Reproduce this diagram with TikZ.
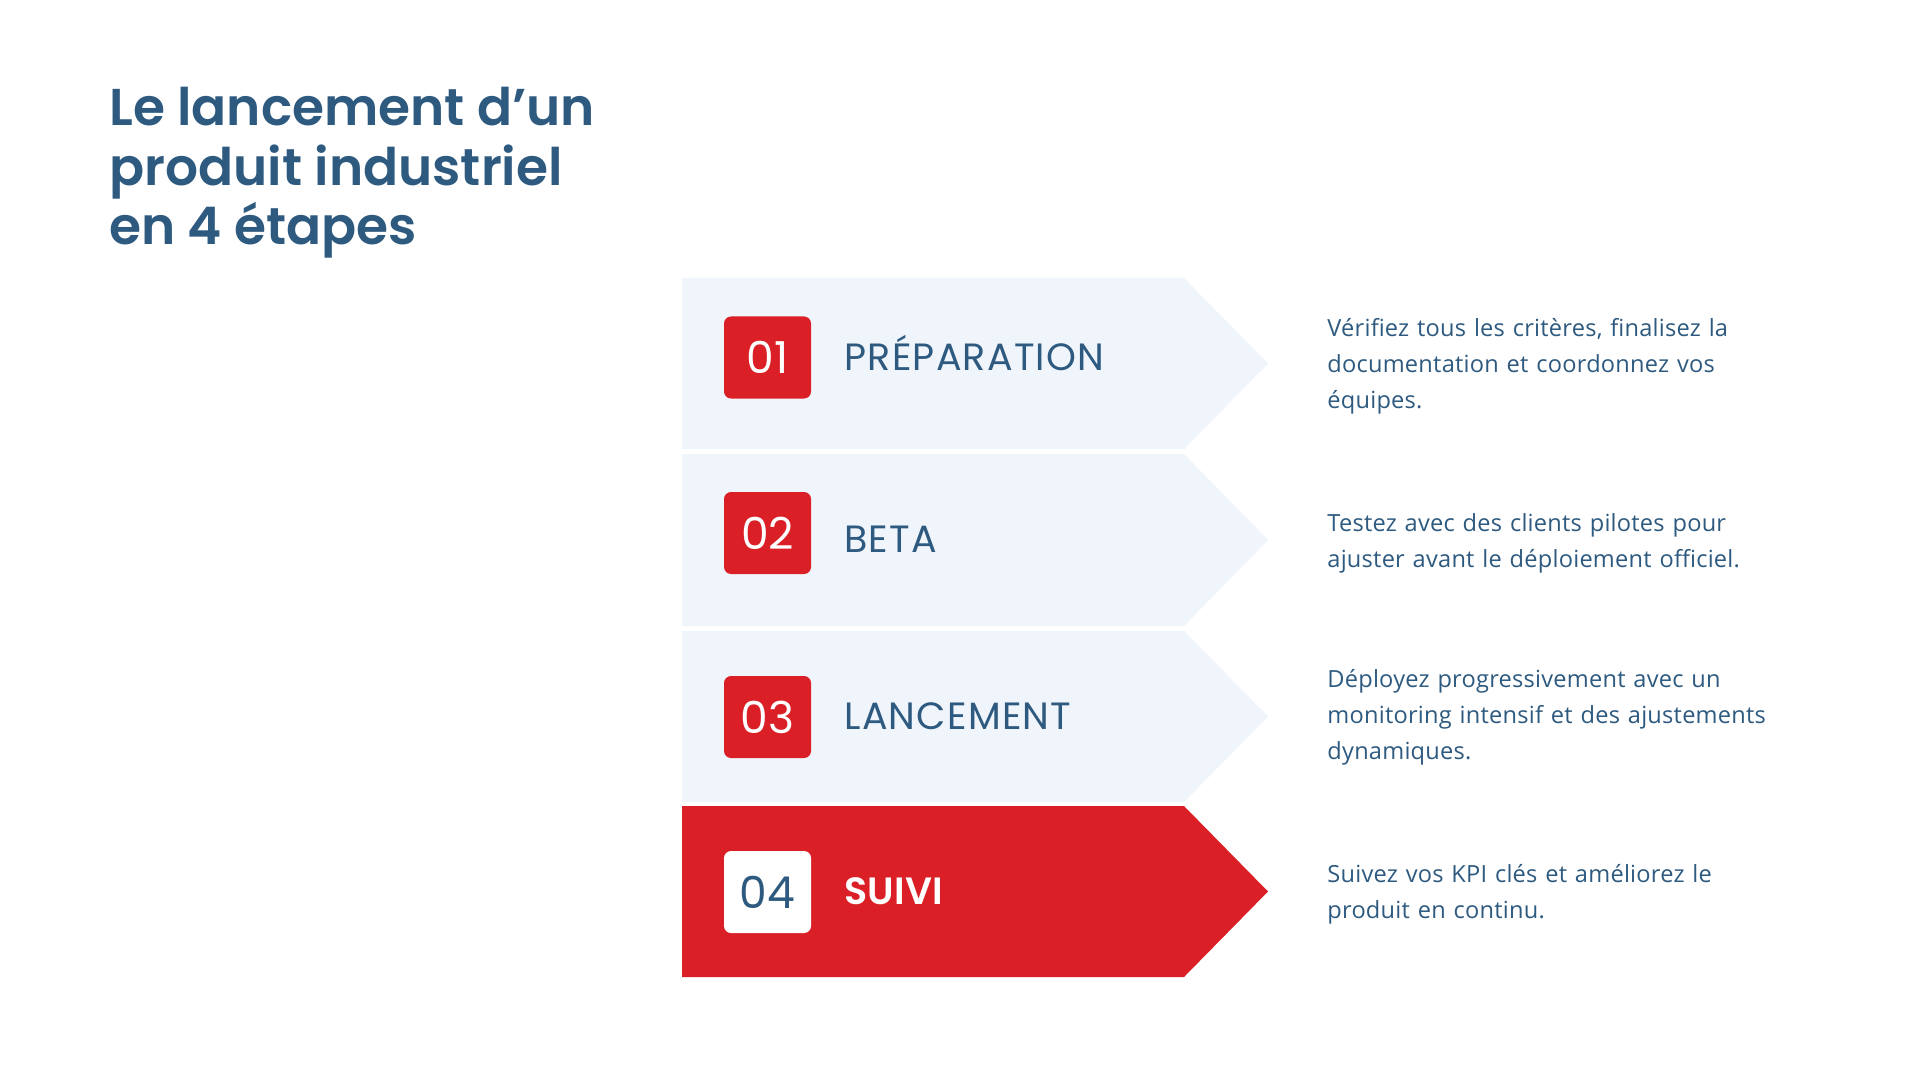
\documentclass[tikz,border=0pt]{standalone}
\usepackage{fontspec}
\setmainfont{Poppins}
\newfontfamily\titlefont{Poppins SemiBold}
\newfontfamily\labelfont{Poppins}[LetterSpace=3.3]
\newfontfamily\labelboldfont{Poppins SemiBold}[LetterSpace=0.8]
\newfontfamily\descfont{Open Sans}[LetterSpace=1]
\definecolor{ink}{HTML}{2E5A80}
\definecolor{brandred}{HTML}{DA1F26}
\definecolor{pale}{HTML}{F0F5FC}
\tikzset{
  titletext/.style={anchor=base west, inner sep=0pt, text=ink, font=\titlefont\fontsize{25.9}{30}\selectfont},
  numbox/.style={fill=brandred, rounded corners=3.5pt, minimum width=43.5pt, minimum height=41pt, inner sep=0pt, text=white, font=\fontsize{22}{22}\selectfont},
  numboxw/.style={numbox, fill=white, text=ink},
  steplabel/.style={anchor=base west, inner sep=0pt, text=ink, font=\labelfont\fontsize{19}{19}\selectfont},
  steplabelw/.style={steplabel, text=white, font=\labelboldfont\fontsize{19}{19}\selectfont},
  desc/.style={anchor=base west, inner sep=0pt, text=ink, text width=250pt, align=left, font=\descfont\fontsize{11.8}{18}\selectfont},
}
\begin{document}
\begin{tikzpicture}[x=0.5pt,y=-0.5pt]
\useasboundingbox (0,0) rectangle (1920,1080);
\fill[white] (0,0) rectangle (1920,1080);
% title
\node[titletext] (t1) at (109,126) {Le lancement d’un};
\node[titletext] (t2) at (109,185.5) {produit industriel};
\node[titletext] (t3) at (109,245) {en 4 étapes};
% arrows
\fill[pale] (682,278) -- (1184,278) -- (1268,363.5) -- (1184,449) -- (682,449) -- cycle;
\fill[pale] (682,454) -- (1184,454) -- (1268,540) -- (1184,626) -- (682,626) -- cycle;
\fill[pale] (682,631) -- (1184,631) -- (1268,716.5) -- (1184,802) -- (682,802) -- cycle;
\fill[brandred] (682,806) -- (1184,806) -- (1268,891.5) -- (1184,977) -- (682,977) -- cycle;
% number boxes
\node[numbox] (n1) at (767.5,357.5) {01};
\node[numbox] (n2) at (767.5,533) {02};
\node[numbox] (n3) at (767.5,717) {03};
\node[numboxw] (n4) at (767.5,892) {04};
% labels
\node[steplabel] (l1) at (844,371) {PRÉPARATION};
\node[steplabel] (l2) at (844,552) {BETA};
\node[steplabel] (l3) at (844,729) {LANCEMENT};
\node[steplabelw] (l4) at (844,904) {SUIVI};
% descriptions
\node[desc] (d1) at (1327,336) {Vérifiez tous les critères, finalisez la\\documentation et coordonnez vos\\équipes.};
\node[desc] (d2) at (1327,531) {Testez avec des clients pilotes pour\\ajuster avant le déploiement officiel.};
\node[desc] (d3) at (1327,687) {Déployez progressivement avec un\\monitoring intensif et des ajustements\\dynamiques.};
\node[desc] (d4) at (1327,882) {Suivez vos KPI clés et améliorez le\\produit en continu.};
\end{tikzpicture}
\end{document}
